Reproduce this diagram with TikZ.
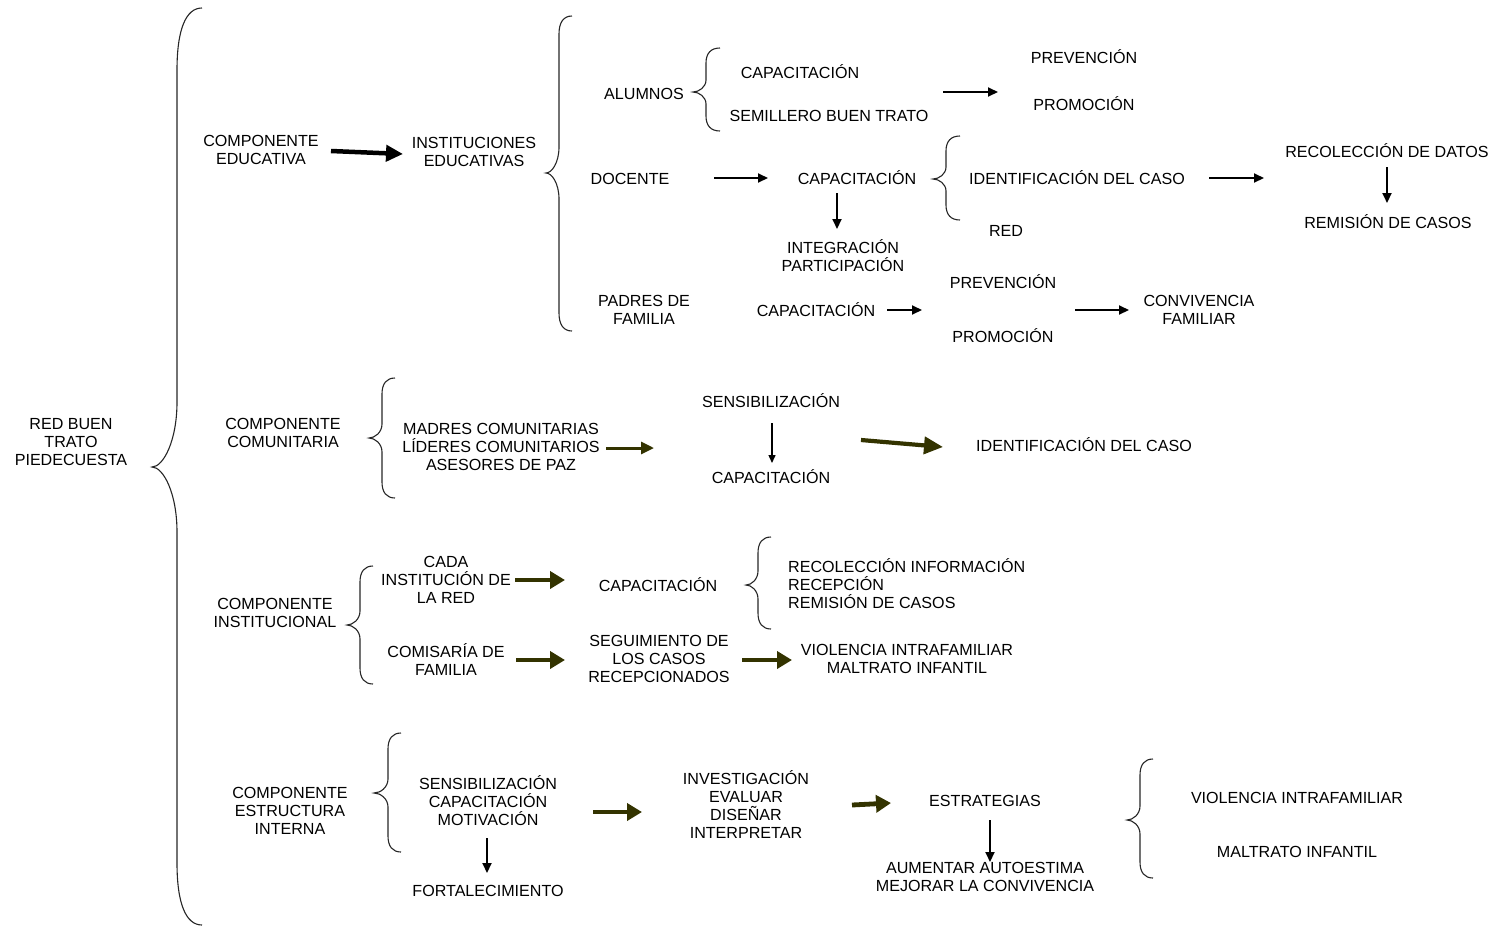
\documentclass[tikz,border=0pt]{standalone}
\usepackage{fontspec}
\setmainfont{Liberation Sans}
\usetikzlibrary{arrows.meta}
\definecolor{olivearr}{RGB}{51,51,0}
\newcommand\myBrace[8]{%
  \draw[bracestyle] (#3,#4) .. controls ({#2+0.35*(#3-#2)},#4) and (#2,{#4+0.35*#7}) .. (#2,{#4+#7})
   -- (#2,{#5-#8}) .. controls (#2,{#5-0.4*#8}) and ({#1+0.45*(#2-#1)},#5) .. (#1,#5)
   .. controls ({#1+0.45*(#2-#1)},#5) and (#2,{#5+0.4*#8}) .. (#2,{#5+#8})
   -- (#2,{#6-#7}) .. controls (#2,{#6-0.35*#7}) and ({#2+0.35*(#3-#2)},#6) .. (#3,#6);}
\tikzset{
  txt/.style={font=\fontsize{16.1}{18}\selectfont, align=center, inner sep=0pt, yshift=-1pt},
  bracestyle/.style={line width=1.1pt, black!85},
  thinarr/.style={line width=1.9pt, -{Triangle[length=10pt,width=9pt]}},
  slimarr/.style={line width=1.4pt, -{Triangle[length=8pt,width=7pt]}},
  fatarr/.style={line width=4.5pt, -{Triangle[length=17pt,width=16pt]}},
  olivethin/.style={olivearr, line width=3pt, -{Triangle[length=13pt,width=12pt]}},
  olivefat/.style={olivearr, line width=4.8pt, -{Triangle[length=15pt,width=17pt]}},
}
\begin{document}
\begin{tikzpicture}[x=1pt,y=-1pt]
\useasboundingbox (0,0) rectangle (1496,927);

% braces
\myBrace{152}{177}{202}{8}{467}{925}{62}{65}
\myBrace{546}{559}{572}{16}{173}{331}{18}{26}
\myBrace{693}{706}{720}{48}{92}{131}{15}{12}
\myBrace{933}{946}{960}{136}{179}{220}{15}{12}
\myBrace{369}{382}{395}{378}{438}{498}{16}{14}
\myBrace{347}{360}{373}{566}{625}{684}{16}{14}
\myBrace{746}{758}{771}{537}{585}{629}{16}{14}
\myBrace{374}{388}{401}{733}{793}{852}{16}{14}
\myBrace{1127}{1140}{1153}{759}{820}{878}{16}{14}

% root
\node[txt] (red) at (71,441) {RED BUEN\\TRATO\\PIEDECUESTA};

% section 1
\node[txt] (ce) at (261,149) {COMPONENTE\\EDUCATIVA};
\node[txt] (ie) at (474,151) {INSTITUCIONES\\EDUCATIVAS};
\node[txt] (alu) at (644,93) {ALUMNOS};
\node[txt] (cap1) at (800,71) {CAPACITACIÓN};
\node[txt] (sem) at (829,115) {SEMILLERO BUEN TRATO};
\node[txt] (prev1) at (1084,56) {PREVENCIÓN};
\node[txt] (prom1) at (1084,103) {PROMOCIÓN};
\node[txt] (doc) at (630,178) {DOCENTE};
\node[txt] (cap2) at (857,177) {CAPACITACIÓN};
\node[txt] (integ) at (843,255) {INTEGRACIÓN\\PARTICIPACIÓN};
\node[txt] (idc1) at (1077,177) {IDENTIFICACIÓN DEL CASO};
\node[txt] (red2) at (1006,230) {RED};
\node[txt] (recol) at (1387,150) {RECOLECCIÓN DE DATOS};
\node[txt] (remi) at (1388,221) {REMISIÓN DE CASOS};
\node[txt] (padres) at (644,309) {PADRES DE\\FAMILIA};
\node[txt] (cap3) at (816,309) {CAPACITACIÓN};
\node[txt] (prev2) at (1003,281) {PREVENCIÓN};
\node[txt] (prom2) at (1003,335) {PROMOCIÓN};
\node[txt] (conv) at (1199,309) {CONVIVENCIA\\FAMILIAR};

\coordinate (a1s) at (331,151); \coordinate (a1e) at (403,154);
\draw[fatarr] (a1s) -- (a1e);
\coordinate (a2s) at (943,92); \coordinate (a2e) at (998,92);
\draw[thinarr] (a2s) -- (a2e);
\coordinate (a3s) at (714,178); \coordinate (a3e) at (768,178);
\draw[thinarr] (a3s) -- (a3e);
\coordinate (a4s) at (837,193); \coordinate (a4e) at (837,229);
\draw[thinarr] (a4s) -- (a4e);
\coordinate (a5s) at (1209,178); \coordinate (a5e) at (1264,178);
\draw[thinarr] (a5s) -- (a5e);
\coordinate (a6s) at (1387,167); \coordinate (a6e) at (1387,203);
\draw[thinarr] (a6s) -- (a6e);
\coordinate (a7s) at (887,310); \coordinate (a7e) at (922,310);
\draw[thinarr] (a7s) -- (a7e);
\coordinate (a8s) at (1075,310); \coordinate (a8e) at (1129,310);
\draw[thinarr] (a8s) -- (a8e);

% section 2
\node[txt] (cc) at (283,432) {COMPONENTE\\COMUNITARIA};
\node[txt] (madres) at (501,446) {MADRES COMUNITARIAS\\LÍDERES COMUNITARIOS\\ASESORES DE PAZ};
\node[txt] (sens) at (771,400) {SENSIBILIZACIÓN};
\node[txt] (cap4) at (771,476) {CAPACITACIÓN};
\node[txt] (idc2) at (1084,444) {IDENTIFICACIÓN DEL CASO};
\coordinate (b1s) at (606,448); \coordinate (b1e) at (654,448);
\draw[olivethin] (b1s) -- (b1e);
\coordinate (b2s) at (772,423); \coordinate (b2e) at (772,463);
\draw[slimarr] (b2s) -- (b2e);
\coordinate (b3s) at (861,440); \coordinate (b3e) at (943,447);
\draw[olivearr, line width=4.2pt, -{Triangle[length=19pt,width=17pt]}] (b3s) -- (b3e);

% section 3
\node[txt] (ci) at (275,612) {COMPONENTE\\INSTITUCIONAL};
\node[txt] (cada) at (446,579) {CADA\\INSTITUCIÓN DE\\LA RED};
\node[txt] (cap5) at (658,584) {CAPACITACIÓN};
\node[txt, align=left, anchor=west] (recinfo) at (788,583) {RECOLECCIÓN INFORMACIÓN\\RECEPCIÓN\\REMISIÓN DE CASOS};
\node[txt] (comis) at (446,659) {COMISARÍA DE\\FAMILIA};
\node[txt] (seg) at (659,658) {SEGUIMIENTO DE\\LOS CASOS\\RECEPCIONADOS};
\node[txt] (viol1) at (907,658) {VIOLENCIA INTRAFAMILIAR\\MALTRATO INFANTIL};
\coordinate (c1s) at (515,580); \coordinate (c1e) at (565,580);
\draw[olivefat] (c1s) -- (c1e);
\coordinate (c2s) at (516,660); \coordinate (c2e) at (565,660);
\draw[olivefat] (c2s) -- (c2e);
\coordinate (c3s) at (742,660); \coordinate (c3e) at (792,660);
\draw[olivefat] (c3s) -- (c3e);

% section 4
\node[txt] (cei) at (290,810) {COMPONENTE\\ESTRUCTURA\\INTERNA};
\node[txt] (sens2) at (488,800) {SENSIBILIZACIÓN\\CAPACITACIÓN\\MOTIVACIÓN};
\node[txt] (fort) at (488,890) {FORTALECIMIENTO};
\node[txt] (inv) at (746,804) {INVESTIGACIÓN\\EVALUAR\\DISEÑAR\\INTERPRETAR};
\node[txt] (estr) at (985,800) {ESTRATEGIAS};
\node[txt] (aum) at (985,876) {AUMENTAR AUTOESTIMA\\MEJORAR LA CONVIVENCIA};
\node[txt] (viol2) at (1297,797) {VIOLENCIA INTRAFAMILIAR};
\node[txt] (malt) at (1297,851) {MALTRATO INFANTIL};
\coordinate (d1s) at (593,812); \coordinate (d1e) at (642,812);
\draw[olivefat] (d1s) -- (d1e);
\coordinate (d2s) at (852,805); \coordinate (d2e) at (891,803);
\draw[olivefat] (d2s) -- (d2e);
\coordinate (d3s) at (487,838); \coordinate (d3e) at (487,873);
\draw[thinarr] (d3s) -- (d3e);
\coordinate (d4s) at (990,820); \coordinate (d4e) at (990,862);
\draw[thinarr] (d4s) -- (d4e);
\end{tikzpicture}
\end{document}
